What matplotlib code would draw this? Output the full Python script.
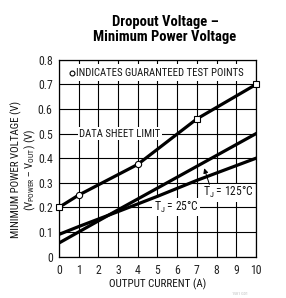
import re
import matplotlib
matplotlib.use("Agg")
import matplotlib.pyplot as plt
from matplotlib import font_manager
from matplotlib.font_manager import FontProperties

# ---- data ----
limit_x = [0, 1, 4, 7, 10]
limit_y = [0.20, 0.25, 0.375, 0.56, 0.70]
limit_markers = ["s", "o", "o", "s", "s"]

t125_x = [0, 3, 10]
t125_y = [0.055, 0.19, 0.50]

t25_x = [0, 1, 3, 5, 7, 10]
t25_y = [0.09, 0.122, 0.183, 0.245, 0.31, 0.40]

x_ticks = list(range(0, 11))
y_ticks = [0, 0.1, 0.2, 0.3, 0.4, 0.5, 0.6, 0.7, 0.8]
y_tick_labels = ["0", "0.1", "0.2", "0.3", "0.4", "0.5", "0.6", "0.7", "0.8"]

title = "Dropout Voltage –\nMinimum Power Voltage"
xlabel = "OUTPUT CURRENT (A)"
ylabel = "MINIMUM POWER VOLTAGE (V)\n(V$_\\mathregular{POWER}$ – V$_\\mathregular{OUT}$) (V)"

# ---- fonts: prefer a narrow/condensed sans ----
files = [f.fname for f in font_manager.fontManager.ttflist]
files += font_manager.findSystemFonts()
files = sorted(set(files))


def pick(patterns):
    for pat in patterns:
        for fn in files:
            base = fn.replace("\\", "/").split("/")[-1]
            if re.fullmatch(pat, base, flags=re.I):
                return fn
    return None


reg_file = pick([r"LiberationSansNarrow-Regular\.ttf", r"RobotoCondensed-Regular\.ttf",
                 r"Roboto_?Condensed-Regular\.ttf", r"NotoSans-Condensed\.ttf",
                 r"DejaVuSansCondensed\.ttf", r"Roboto-Regular\.ttf"])
bold_file = pick([r"LiberationSansNarrow-Bold\.ttf", r"RobotoCondensed-Bold\.ttf",
                  r"Roboto_?Condensed-Bold\.ttf", r"NotoSans-CondensedBold\.ttf",
                  r"DejaVuSansCondensed-Bold\.ttf", r"Roboto-Bold\.ttf"])


def fp(size, bold=False):
    f = bold_file if bold else reg_file
    if f:
        return FontProperties(fname=f, size=size)
    return FontProperties(family="DejaVu Sans", size=size, weight="bold" if bold else "normal")


plt.rcParams["mathtext.default"] = "regular"

fig = plt.figure(figsize=(2.86, 2.98), dpi=100)
ax = fig.add_axes([0.206, 0.139, 0.689, 0.660])

ax.set_xlim(0, 10)
ax.set_ylim(0, 0.8)
ax.set_xticks(x_ticks)
ax.set_yticks(y_ticks)
ax.set_xticklabels([str(v) for v in x_ticks], fontproperties=fp(8.5), color="#222222")
ax.set_yticklabels(y_tick_labels, fontproperties=fp(8.5), color="#222222")
ax.tick_params(axis="x", length=0, pad=5)
ax.tick_params(axis="y", length=0, pad=4.5)
ax.grid(True, color="black", linewidth=0.8, zorder=1)
ax.set_axisbelow(True)
for s in ax.spines.values():
    s.set_linewidth(0.9)

lw = 2.3
ax.plot(limit_x, limit_y, color="black", lw=lw, zorder=4)
for xv, yv, m in zip(limit_x, limit_y, limit_markers):
    ax.plot([xv], [yv], marker=m, ms=4.5, mfc="white", mec="black", mew=0.8,
            linestyle="none", zorder=5, clip_on=False)
ax.plot(t125_x, t125_y, color="black", lw=lw, zorder=4)
ax.plot(t25_x, t25_y, color="black", lw=lw, zorder=4)

bb = dict(facecolor="white", edgecolor="none", pad=1.0)
ax.text(0.85, 0.748, "INDICATES GUARANTEED TEST POINTS", fontproperties=fp(7.7), ha="left",
        va="center", bbox=dict(facecolor="white", edgecolor="none", pad=2.5), zorder=3,
        color="#111111")
ax.plot([0.66], [0.748], marker="o", ms=3.5, mfc="white", mec="black", mew=0.8, zorder=5)
ax.text(3.1, 0.5, "DATA SHEET LIMIT", fontproperties=fp(7.7), ha="center", va="center",
        bbox=bb, zorder=3, color="#111111")
ax.text(8.6, 0.26, "T$_\\mathregular{J}$ = 125°C", fontproperties=fp(8.3), ha="center",
        va="center", bbox=bb, zorder=3, color="#111111")
ax.text(5.95, 0.2, "T$_\\mathregular{J}$ = 25°C", fontproperties=fp(8.3), ha="center",
        va="center", bbox=bb, zorder=3, color="#111111")
ax.annotate("", xy=(7.33, 0.37), xytext=(7.68, 0.283),
            arrowprops=dict(arrowstyle="-|>", color="black", lw=0.7, mutation_scale=7), zorder=6)

ax.set_xlabel(xlabel, fontproperties=fp(7.9), labelpad=1.5, color="#111111")
ax.set_ylabel(ylabel, fontproperties=fp(7.8), color="#111111", linespacing=1.05)
ax.yaxis.set_label_coords(-0.107, 0.443)

fig.text(0.577, 0.901, title, ha="center", va="center", fontproperties=fp(10.5, bold=True),
         linespacing=1.05)
fig.text(0.84, 0.008, "1581 G01", fontproperties=fp(3), color="#bbbbbb", ha="center",
         va="bottom")

fig.savefig("out.png", dpi=100)
